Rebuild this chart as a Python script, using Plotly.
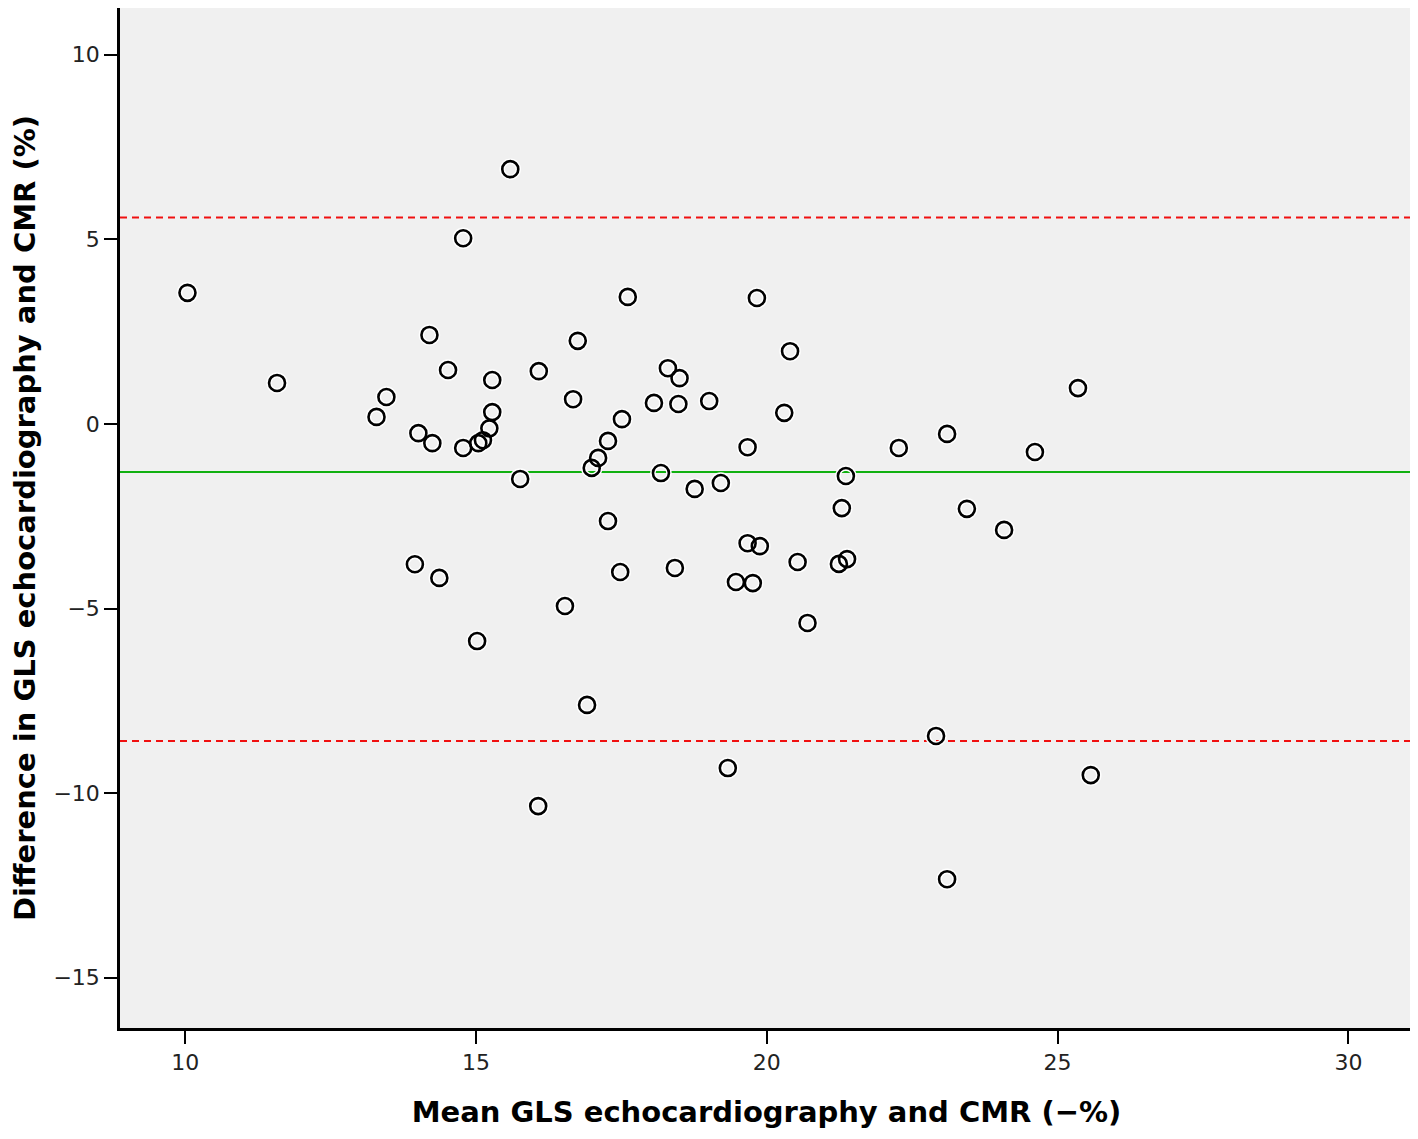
import plotly.graph_objects as go

# Bland-Altman: mean GLS (x) vs difference (y)
mean_gls = [10.04, 11.58, 13.29, 13.46, 14.01, 14.25, 14.20, 14.52, 13.95, 14.37,
            14.78, 14.78, 15.04, 15.12, 15.23, 15.28, 15.28, 16.08, 16.75, 16.67,
            15.76, 17.51, 17.27, 17.10, 16.99, 17.27, 18.30, 18.50, 18.06, 18.48,
            19.01, 18.18, 18.76, 19.21, 19.67, 17.61, 20.40, 20.30, 22.27, 23.10,
            21.36, 21.29, 19.67, 19.88, 20.53, 21.24, 21.38, 17.48, 18.42, 19.47,
            19.76, 20.70, 25.35, 24.61, 23.44, 24.08, 19.83, 16.53, 15.02, 16.91,
            16.07, 19.33, 22.91, 25.57, 23.10, 15.59]
diff_gls = [3.55, 1.11, 0.19, 0.73, -0.25, -0.52, 2.41, 1.46, -3.80, -4.17,
            -0.65, 5.03, -0.52, -0.44, -0.12, 0.32, 1.19, 1.43, 2.25, 0.67,
            -1.49, 0.13, -0.46, -0.92, -1.19, -2.63, 1.51, 1.24, 0.57, 0.54,
            0.62, -1.33, -1.76, -1.60, -0.63, 3.44, 1.97, 0.30, -0.65, -0.27,
            -1.41, -2.28, -3.23, -3.31, -3.74, -3.79, -3.66, -4.01, -3.90, -4.28,
            -4.31, -5.39, 0.97, -0.76, -2.30, -2.87, 3.41, -4.93, -5.88, -7.61,
            -10.35, -9.32, -8.45, -9.51, -12.33, 6.90]

mean_diff = -1.30
limits = [5.59, -8.59]

x_ticks = [10, 15, 20, 25, 30]
y_ticks = [10, 5, 0, -5, -10, -15]

fig = go.Figure()
# white halo under the circles
fig.add_trace(go.Scatter(x=mean_gls, y=diff_gls, mode='markers', hoverinfo='skip',
                         marker=dict(symbol='circle-open', size=16, color='white',
                                     line=dict(width=5.5))))
fig.add_trace(go.Scatter(x=mean_gls, y=diff_gls, mode='markers',
                         marker=dict(symbol='circle-open', size=16, color='black',
                                     line=dict(width=2.6))))

fig.add_hline(y=mean_diff, line=dict(color='#10B010', width=2), layer='below')
for lim in limits:
    fig.add_hline(y=lim, line=dict(color='#F01010', width=2, dash='7px,5px'), layer='below')

axis_font = dict(family='DejaVu Sans', size=22, color='#222')
title_font = dict(family='DejaVu Sans', size=29, color='black')

fig.update_xaxes(range=[8.88, 31.11], tickvals=x_ticks, ticks='outside', ticklen=13,
                 tickwidth=2, tickcolor='black', showline=True, linecolor='black',
                 linewidth=2.5, mirror=True, showgrid=False, zeroline=False,
                 tickfont=axis_font, automargin=False,
                 title=dict(text='<b>Mean GLS echocardiography and CMR (−%)</b>',
                            font=title_font, standoff=28))
fig.update_yaxes(range=[-16.36, 11.265], tickvals=y_ticks,
                 ticktext=[str(v).replace('-', '−') for v in y_ticks],
                 ticks='outside', ticklen=13, tickwidth=2, tickcolor='black',
                 showline=True, linecolor='black', linewidth=2.5, mirror=True,
                 showgrid=False, zeroline=False, tickfont=axis_font, automargin=False,
                 title=dict(text='<b>Difference in GLS echocardiography and CMR (%)</b>',
                            font=title_font, standoff=24))

# page body adds 8px offset, so the figure is sized/margined to compensate
fig.update_layout(width=1410, height=1131, showlegend=False,
                  plot_bgcolor='#F0F0F0', paper_bgcolor='white',
                  margin=dict(l=112, r=5, t=0, b=111, autoexpand=False))

fig.write_html("out.html")
